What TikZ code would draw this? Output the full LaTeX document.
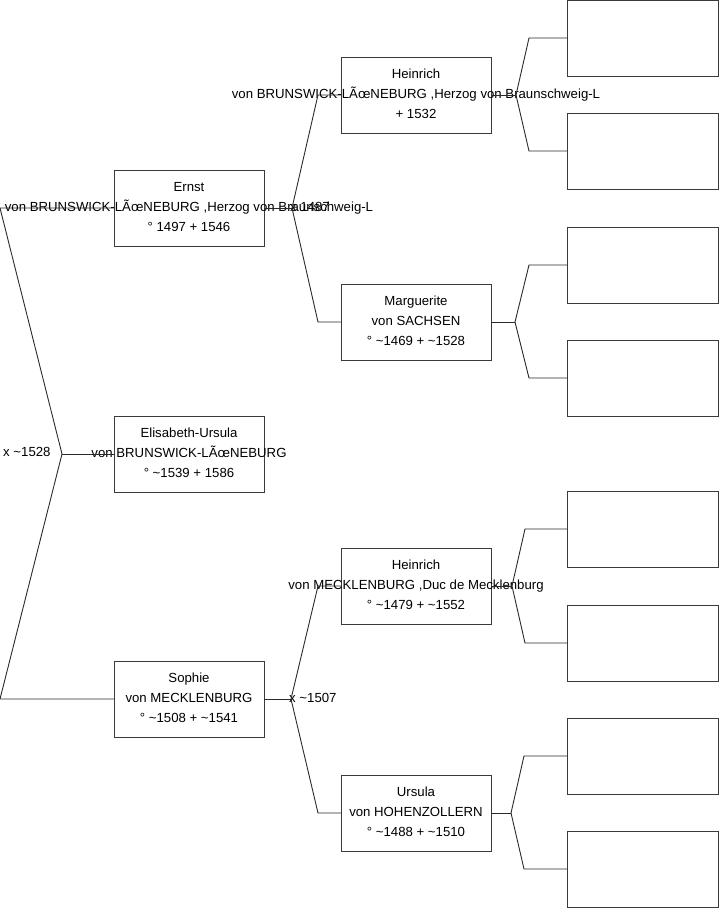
\documentclass[tikz,border=0pt]{standalone}
\usepackage{fontspec}
\setmainfont{Liberation Sans}
\usetikzlibrary{calc}
\definecolor{boxgray}{HTML}{3A3A3A}
\definecolor{linegray}{HTML}{2A2A2A}
\begin{document}
\begin{tikzpicture}[x=1pt,y=-1pt,
  box/.style={draw=boxgray, line width=1pt, fill=white, minimum width=150pt, minimum height=76pt, inner sep=0pt, outer sep=0pt},
  leafbox/.style={box, minimum width=151pt},
  txt/.style={font=\fontsize{13.2}{20}\selectfont, align=center, inner sep=0pt, text=black},
  conn/.style={draw=linegray, line width=0.9pt},
  lbl/.style={font=\fontsize{13.2}{14}\selectfont, anchor=west, inner sep=0pt, text=black}]
\useasboundingbox (0,0) rectangle (719,908);
% generation 1
\node[box] (ernst) at (189,208) {};
\node[box] (elis) at (189,454) {};
\node[box] (sophie) at (189,699) {};
% generation 2
\node[box] (heinr) at (416,95) {};
\node[box] (marg) at (416,322) {};
\node[box] (heinm) at (416,586) {};
\node[box] (urs) at (416,813) {};
% generation 3
\node[leafbox] (l1) at (642.5,38) {};
\node[leafbox] (l2) at (642.5,151) {};
\node[leafbox] (l3) at (642.5,265) {};
\node[leafbox] (l4) at (642.5,378) {};
\node[leafbox] (l5) at (642.5,529) {};
\node[leafbox] (l6) at (642.5,643) {};
\node[leafbox] (l7) at (642.5,756) {};
\node[leafbox] (l8) at (642.5,869) {};
% texts
\node[txt] (ternst) at ($(ernst.center)+(0,-1)$) {Ernst\\von BRUNSWICK-LÃœNEBURG ,Herzog von Braunschweig-L\\° 1497 + 1546};
\node[txt] (telis) at ($(elis.center)+(0,-1)$) {Elisabeth-Ursula\\von BRUNSWICK-LÃœNEBURG\\° \textasciitilde1539 + 1586};
\node[txt] (tsophie) at ($(sophie.center)+(0,-1)$) {Sophie\\von MECKLENBURG\\° \textasciitilde1508 + \textasciitilde1541};
\node[txt] (theinr) at ($(heinr.center)+(0,-1)$) {Heinrich\\von BRUNSWICK-LÃœNEBURG ,Herzog von Braunschweig-L\\+ 1532};
\node[txt] (tmarg) at ($(marg.center)+(0,-1)$) {Marguerite\\von SACHSEN\\° \textasciitilde1469 + \textasciitilde1528};
\node[txt] (theinm) at ($(heinm.center)+(0,-1)$) {Heinrich\\von MECKLENBURG ,Duc de Mecklenburg\\° \textasciitilde1479 + \textasciitilde1552};
\node[txt] (turs) at ($(urs.center)+(0,-1)$) {Ursula\\von HOHENZOLLERN\\° \textasciitilde1488 + \textasciitilde1510};
% marriage labels
\node[lbl] (mroot) at (3,452) {x \textasciitilde1528};
\node[lbl] (mernst) at (290,207) {x 1487};
\node[lbl] (msophie) at (289,698) {x \textasciitilde1507};
% junctions and bends
\coordinate (jR) at (62,454);
\coordinate (bRu) at (0,208);
\coordinate (bRd) at (0,699);
\coordinate (jE) at (292,208);
\coordinate (bEu) at (318,95);
\coordinate (bEd) at (318,322);
\coordinate (jS) at (291,699);
\coordinate (bSu) at (318,586);
\coordinate (bSd) at (318,813);
\coordinate (jH) at (516,95);
\coordinate (bHu) at (529,38);
\coordinate (bHd) at (529,151);
\coordinate (jM) at (515,322);
\coordinate (bMu) at (529,265);
\coordinate (bMd) at (529,378);
\coordinate (jK) at (512,586);
\coordinate (bKu) at (525,529);
\coordinate (bKd) at (525,643);
\coordinate (jU) at (511,813);
\coordinate (bUu) at (524,756);
\coordinate (bUd) at (524,869);
% connectors
\draw[conn] (elis.west) -- (jR);
\draw[conn] (jR) -- (bRu) -- (ernst.west);
\draw[conn] (jR) -- (bRd) -- (sophie.west);
\draw[conn] (ernst.east) -- (jE);
\draw[conn] (jE) -- (bEu) -- (heinr.west);
\draw[conn] (jE) -- (bEd) -- (marg.west);
\draw[conn] (sophie.east) -- (jS);
\draw[conn] (jS) -- (bSu) -- (heinm.west);
\draw[conn] (jS) -- (bSd) -- (urs.west);
\draw[conn] (heinr.east) -- (jH);
\draw[conn] (jH) -- (bHu) -- (l1.west);
\draw[conn] (jH) -- (bHd) -- (l2.west);
\draw[conn] (marg.east) -- (jM);
\draw[conn] (jM) -- (bMu) -- (l3.west);
\draw[conn] (jM) -- (bMd) -- (l4.west);
\draw[conn] (heinm.east) -- (jK);
\draw[conn] (jK) -- (bKu) -- (l5.west);
\draw[conn] (jK) -- (bKd) -- (l6.west);
\draw[conn] (urs.east) -- (jU);
\draw[conn] (jU) -- (bUu) -- (l7.west);
\draw[conn] (jU) -- (bUd) -- (l8.west);
\end{tikzpicture}
\end{document}
